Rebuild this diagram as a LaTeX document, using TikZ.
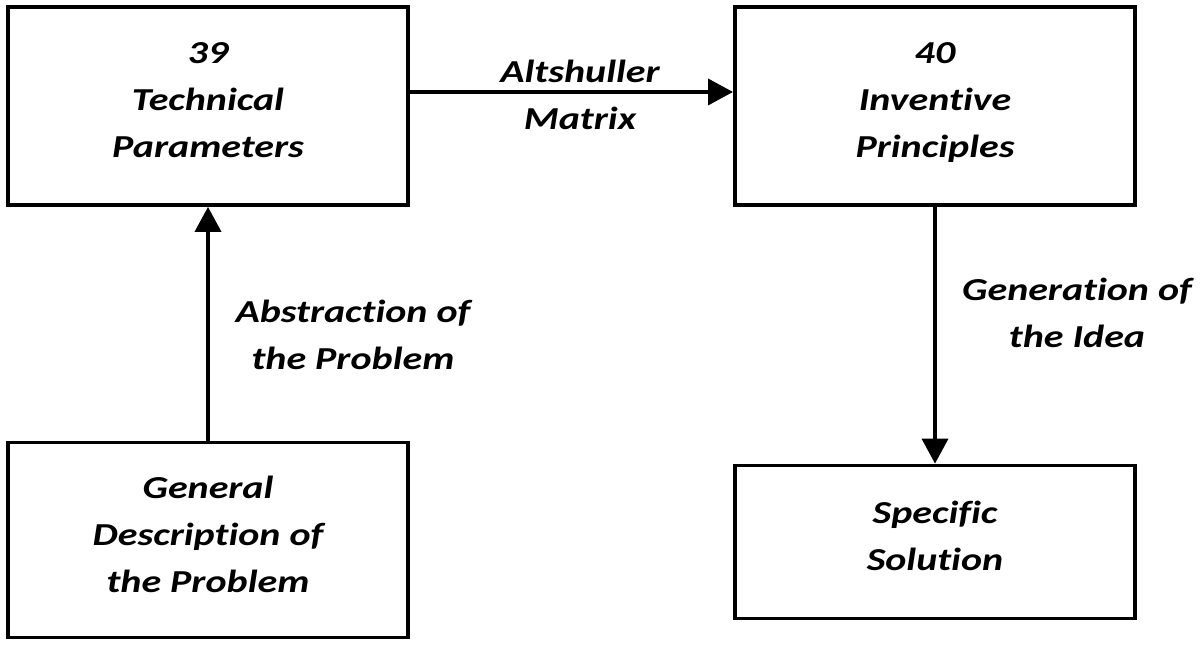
\documentclass[tikz,border=0pt]{standalone}
\usepackage{fontspec}
\setmainfont{Carlito}[FakeStretch=1.25,Ligatures=NoCommon]
\usepackage{tikz}
\usetikzlibrary{arrows.meta}
\usetikzlibrary{positioning}

\begin{document}
\begin{tikzpicture}[x=0.01cm,y=-0.01cm,line width=1.05pt,
  every node/.style={font=\fontsize{9.1}{13.4}\selectfont\bfseries\itshape,align=center},
  stagebox/.style={draw,minimum width=4cm,inner sep=0pt,text depth=0.12cm},
  flow/.style={-{Triangle[width=0.26cm,length=0.25cm]}}]
  \useasboundingbox (0,0) rectangle (1200,646);
  \node[stagebox,minimum height=1.98cm] (tp) at (208,106) {39\\Technical\\Parameters};
  \node[stagebox,minimum height=1.98cm] (ip) at (935,106) {40\\Inventive\\Principles};
  \node[stagebox,minimum height=1.95cm] (gd) at (208,540) {General\\Description of\\the Problem};
  \node[stagebox,minimum height=1.53cm] (ss) at (935,542) {Specific\\Solution};
  \draw[flow](gd)--(tp);
  \draw[flow]([yshift=0.14cm]tp.east)--([yshift=0.14cm]ip.west);
  \draw[flow](ip)--(ss);
  \node (am) at (580,95) {Altshuller\\Matrix};
  \node (ap) at (353,335) {Abstraction of\\the Problem};
  \node (gi) at (1077,313) {Generation of\\the Idea};
\end{tikzpicture}
\end{document}
